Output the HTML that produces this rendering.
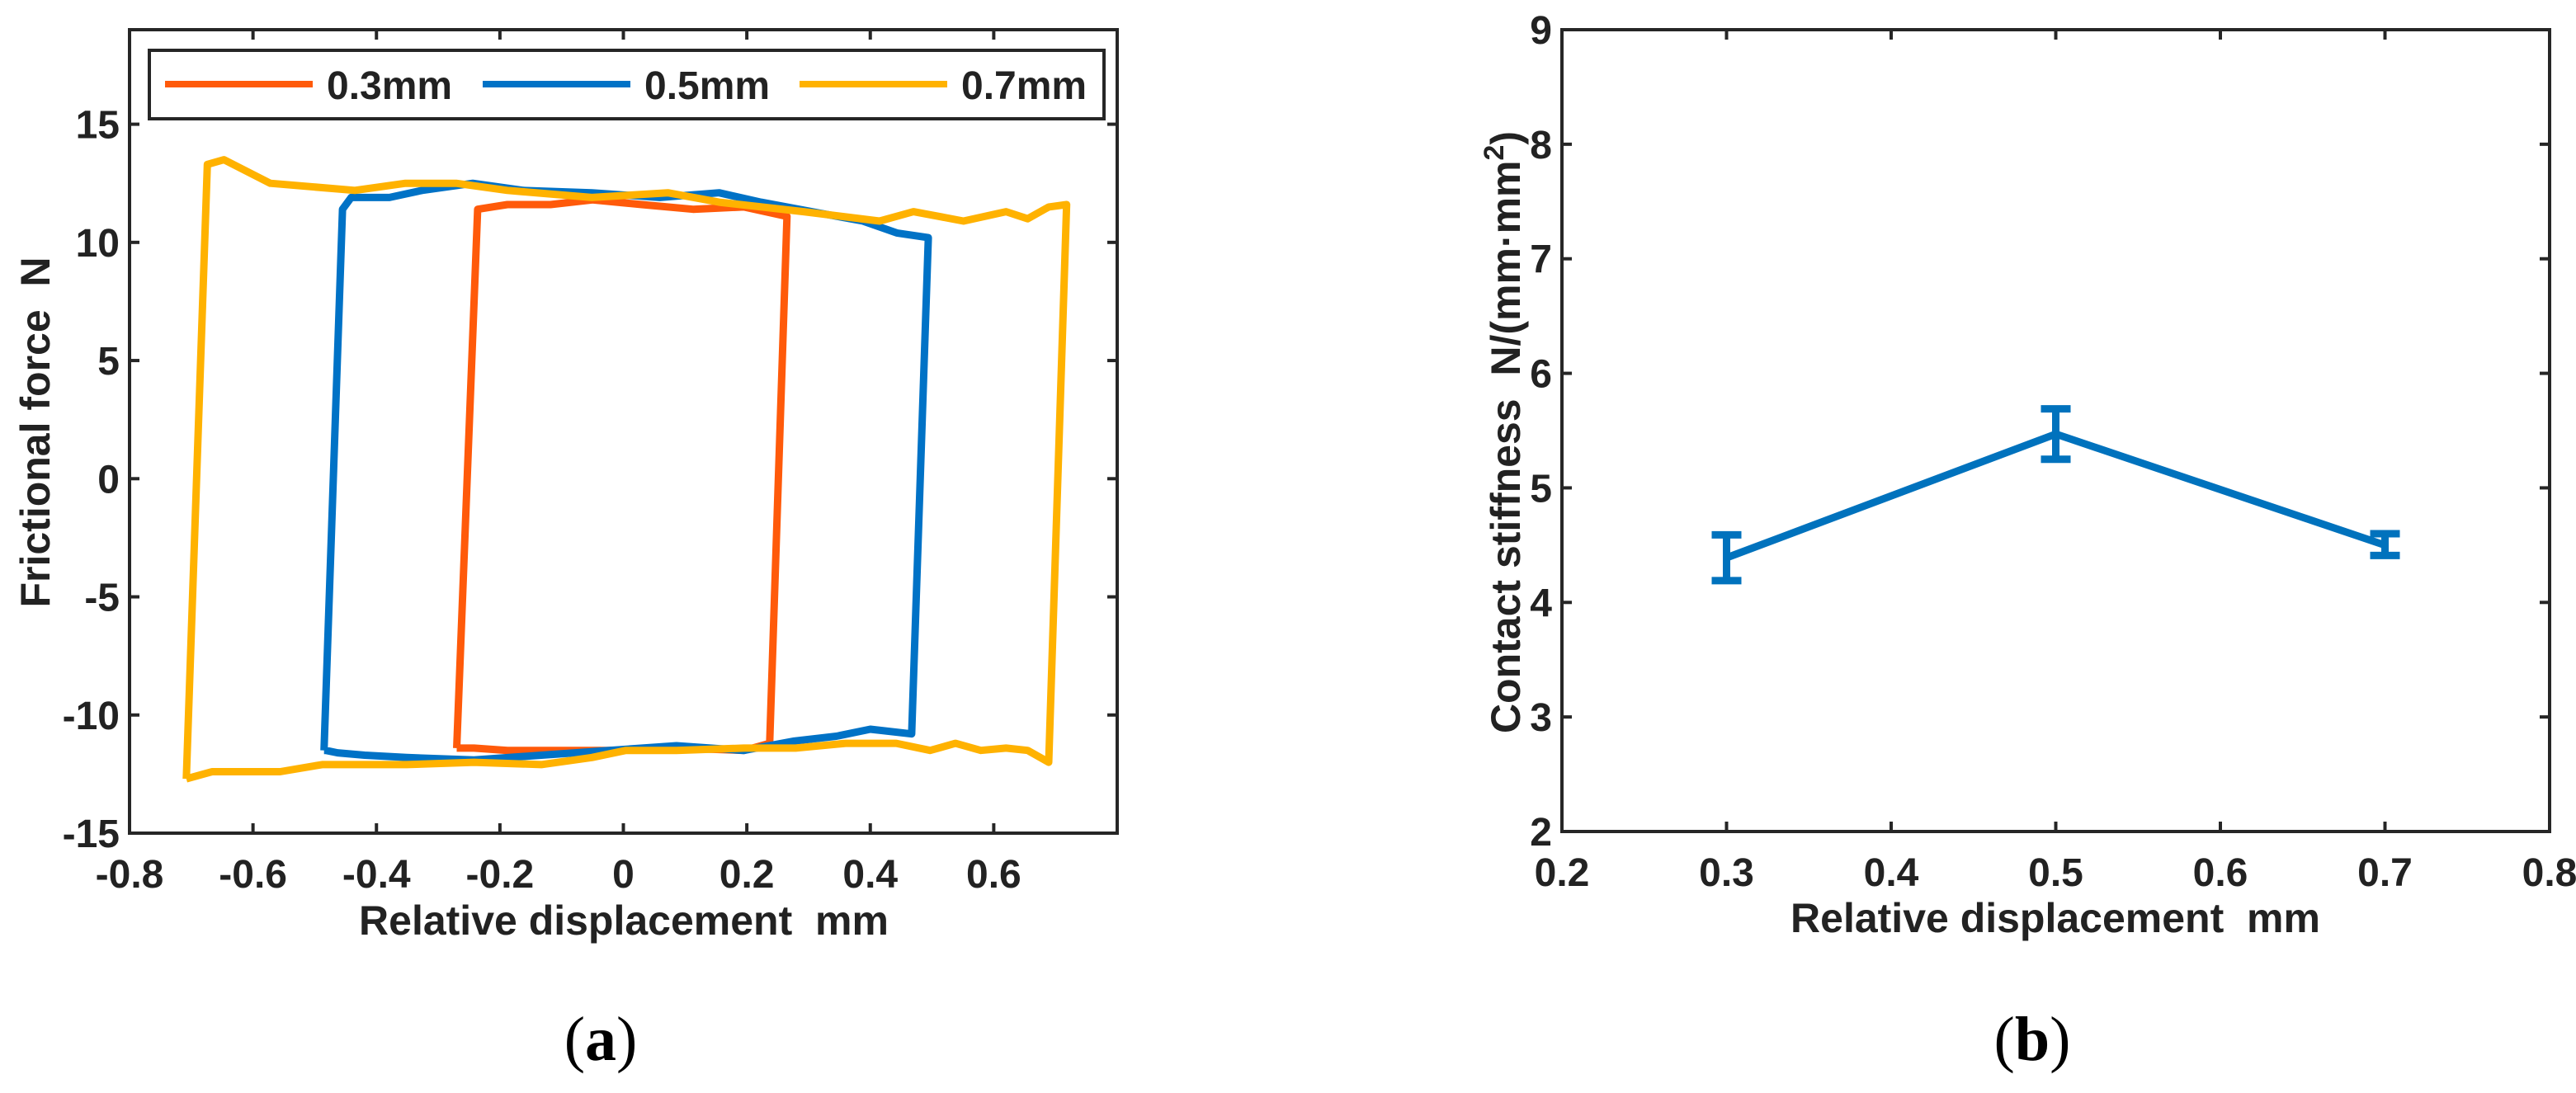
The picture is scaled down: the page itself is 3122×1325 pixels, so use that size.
<!DOCTYPE html>
<html><head><meta charset="utf-8"><style>
html,body{margin:0;padding:0;background:#fff;}
svg{display:block;}
text{font-family:"Liberation Sans Narrow","Liberation Sans",sans-serif;font-weight:bold;fill:#222;}
</style></head><body>
<svg id="fig" width="3122" height="1325" viewBox="0 0 3122 1325" xmlns="http://www.w3.org/2000/svg"></svg>
<script>
// ---- Panel (a) data ----
const aXTicks = [-0.8,-0.6,-0.4,-0.2,0,0.2,0.4,0.6];
const aXTickLabels = ["-0.8","-0.6","-0.4","-0.2","0","0.2","0.4","0.6"];
const aYTicks = [-15,-10,-5,0,5,10,15];
const aYTickLabels = ["-15","-10","-5","0","5","10","15"];
const seriesNames = ["0.3mm","0.5mm","0.7mm"];
const redX = [-0.27,-0.236,-0.188,-0.118,-0.05,0.03,0.113,0.195,0.265,0.237,0.196,0.086,-0.023,-0.119,-0.188,-0.242,-0.27];
const redY = [-11.4,11.4,11.6,11.6,11.8,11.6,11.4,11.5,11.1,-11.2,-11.5,-11.4,-11.5,-11.5,-11.5,-11.4,-11.4];
const blueX = [-0.485,-0.455,-0.441,-0.379,-0.326,-0.244,-0.162,-0.051,0.059,0.155,0.223,0.305,0.388,0.443,0.494,0.467,0.400,0.345,0.277,0.195,0.086,-0.023,-0.133,-0.242,-0.351,-0.419,-0.463,-0.482,-0.485];
const blueY = [-11.5,11.4,11.9,11.9,12.2,12.5,12.2,12.1,11.9,12.1,11.7,11.3,10.9,10.4,10.2,-10.8,-10.6,-10.9,-11.1,-11.5,-11.3,-11.5,-11.7,-11.9,-11.8,-11.7,-11.6,-11.5,-11.5];
const yelX = [-0.708,-0.674,-0.647,-0.572,-0.435,-0.353,-0.271,-0.188,-0.051,0.072,0.155,0.292,0.415,0.470,0.511,0.551,0.620,0.655,0.689,0.718,0.689,0.655,0.620,0.579,0.538,0.497,0.442,0.360,0.279,0.195,0.086,0.004,-0.051,-0.133,-0.242,-0.351,-0.488,-0.556,-0.611,-0.666,-0.708];
const yelY = [-12.7,13.3,13.5,12.5,12.2,12.5,12.5,12.2,11.9,12.1,11.7,11.3,10.9,11.3,11.1,10.9,11.3,11.0,11.5,11.6,-12.0,-11.5,-11.4,-11.5,-11.2,-11.5,-11.2,-11.2,-11.4,-11.4,-11.5,-11.5,-11.8,-12.1,-12.0,-12.1,-12.1,-12.4,-12.4,-12.4,-12.7];
// ---- Panel (b) data ----
const bXTicks = [0.2,0.3,0.4,0.5,0.6,0.7,0.8];
const bXTickLabels = ["0.2","0.3","0.4","0.5","0.6","0.7","0.8"];
const bYTicks = [2,3,4,5,6,7,8,9];
const bYTickLabels = ["2","3","4","5","6","7","8","9"];
const stiffX = [0.3,0.5,0.7];
const stiffY = [4.39,5.47,4.50];
const stiffErrHi = [4.59,5.69,4.60];
const stiffErrLo = [4.19,5.25,4.41];

const NS="http://www.w3.org/2000/svg";
const svg=document.getElementById('fig');
function mk(tag,attrs,parent){const e=document.createElementNS(NS,tag);for(const k in attrs)e.setAttribute(k,attrs[k]);(parent||svg).appendChild(e);return e;}

function axes(g,L,R,T,B,xs,ys,xt,xl,yt,yl,tag){
  for(let i=0;i<xt.length;i++){const x=xs(xt[i]);
    const t=mk('line',{x1:x,x2:x,y1:B,y2:B-12,stroke:'#262626','stroke-width':4},g);
    
    const t2=mk('line',{x1:x,x2:x,y1:T,y2:T+12,stroke:'#262626','stroke-width':4},g);
    
    const lb=mk('text',{x:x,y:B+66,'text-anchor':'middle','font-size':48},g);lb.textContent=xl[i];
    }
  for(let i=0;i<yt.length;i++){const y=ys(yt[i]);
    const t=mk('line',{x1:L,x2:L+12,y1:y,y2:y,stroke:'#262626','stroke-width':4},g);
    
    const t2=mk('line',{x1:R,x2:R-12,y1:y,y2:y,stroke:'#262626','stroke-width':4},g);
    
    const lb=mk('text',{x:L-12,y:y+17,'text-anchor':'end','font-size':48},g);lb.textContent=yl[i];
    }
  const box=mk('rect',{x:L,y:T,width:R-L,height:B-T,fill:'none',stroke:'#262626','stroke-width':4},g);
  
}

// Panel a
const aL=157,aR=1354,aT=36,aB=1010;
const axX=v=>aL+(v+0.8)/1.6*(aR-aL);
const axY=v=>aB-(v+15)/34*(aB-aT);
const ga=mk('g',{});
const colors=['#FF5A0A','#0072C6','#FFB200'];
const loops=[[redX,redY],[blueX,blueY],[yelX,yelY]];
loops.forEach((s,k)=>{
  const pts=s[0].map((x,i)=>axX(x).toFixed(1)+','+axY(s[1][i]).toFixed(1)).join(' ');
  const p=mk('polyline',{points:pts,fill:'none',stroke:colors[k],'stroke-width':9,'stroke-linejoin':'round'},ga);
  
});
axes(ga,aL,aR,aT,aB,axX,axY,aXTicks,aXTickLabels,aYTicks,aYTickLabels,'a');
const leg=mk('g',{},ga);
const lr=mk('rect',{x:181,y:61,width:1157,height:83,fill:'#fff',stroke:'#262626','stroke-width':4},leg);

const legX=[200,585,969];
seriesNames.forEach((n,k)=>{
  const ln=mk('line',{x1:legX[k],x2:legX[k]+179,y1:102,y2:102,stroke:colors[k],'stroke-width':8},leg);
  
  const tx=mk('text',{x:legX[k]+196,y:120,'font-size':48,fill:'#000'},leg);tx.textContent=n;
  
});
let t=mk('text',{x:756,y:1133,'text-anchor':'middle','font-size':50},ga);t.textContent='Relative displacement\u00a0\u00a0mm';

t=mk('text',{x:0,y:0,'text-anchor':'middle','font-size':50,transform:'translate(60,524) rotate(-90)'},ga);t.textContent='Frictional force\u00a0\u00a0N';

t=mk('text',{x:728,y:1285,'text-anchor':'middle','font-size':76,style:'font-family:"Liberation Serif",serif;font-weight:normal;fill:#000'},ga);
t.innerHTML='(<tspan font-weight="bold">a</tspan>)';


// Panel b
const bL=1893,bR=3090,bT=36,bB=1008;
const bxX=v=>bL+(v-0.2)/0.6*(bR-bL);
const bxY=v=>bB-(v-2)/7*(bB-bT);
const gb=mk('g',{});
axes(gb,bL,bR,bT,bB,bxX,bxY,bXTicks,bXTickLabels,bYTicks,bYTickLabels,'b');
const lp=mk('polyline',{points:stiffX.map((x,i)=>bxX(x)+','+bxY(stiffY[i])).join(' '),fill:'none',stroke:'#0072BD','stroke-width':9,'stroke-linejoin':'round'},gb);

stiffX.forEach((x,i)=>{
  const cx=bxX(x),yh=bxY(stiffErrHi[i]),yl=bxY(stiffErrLo[i]);
  const eg=mk('g',{},gb);
  mk('line',{x1:cx,x2:cx,y1:yh,y2:yl,stroke:'#0072BD','stroke-width':9},eg);
  mk('line',{x1:cx-18,x2:cx+18,y1:yh,y2:yh,stroke:'#0072BD','stroke-width':9},eg);
  mk('line',{x1:cx-18,x2:cx+18,y1:yl,y2:yl,stroke:'#0072BD','stroke-width':9},eg);
});
t=mk('text',{x:2491,y:1130,'text-anchor':'middle','font-size':50},gb);t.textContent='Relative displacement\u00a0\u00a0mm';

t=mk('text',{x:0,y:0,'text-anchor':'middle','font-size':50,transform:'translate(1842,524) rotate(-90)'},gb);
t.innerHTML='Contact stiffness\u00a0\u00a0N/(mm·mm<tspan dy="-20" font-size="34">2</tspan><tspan dy="20">)</tspan>';

t=mk('text',{x:2463,y:1285,'text-anchor':'middle','font-size':76,style:'font-family:"Liberation Serif",serif;font-weight:normal;fill:#000'},gb);
t.innerHTML='(<tspan font-weight="bold">b</tspan>)';

</script>
</body></html>
